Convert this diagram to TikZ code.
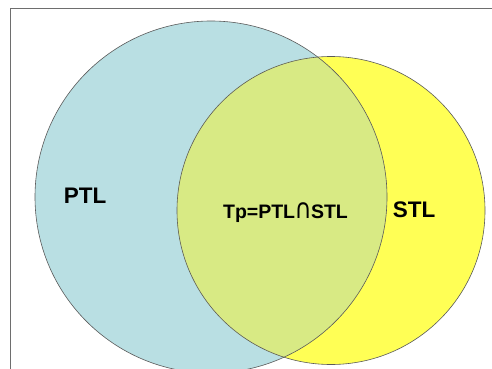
\documentclass[tikz,border=0pt]{standalone}
\usepackage{graphicx}
\usepackage{fontspec}
\setmainfont{Liberation Sans}
\newfontfamily\symfont{DejaVu Sans}
\definecolor{setblue}{RGB}{185,223,227}
\definecolor{setyellow}{RGB}{255,255,85}
\definecolor{setboth}{RGB}{216,234,132}
\definecolor{edgegray}{RGB}{90,90,90}
\definecolor{framegray}{RGB}{110,110,110}
% a tall cap sign, as high as the capitals beside it
\newcommand{\capsign}{{\symfont\mdseries\kern-0.6pt\scalebox{1.2}[1.4]{∩}\kern-0.6pt}}
\begin{document}
\begin{tikzpicture}[x=1pt,y=-1pt,
  setline/.style={draw=edgegray,line width=0.6pt},
  setlabel/.style={font=\bfseries\fontsize{22.5}{26}\selectfont,text=black,inner sep=0pt},
  innerlabel/.style={font=\bfseries\fontsize{19.5}{23}\selectfont,text=black,inner sep=0pt}]
\useasboundingbox (0,0) rectangle (492,369);
\fill[white] (0,0) rectangle (492,369);
% page frame
\draw[framegray,line width=0.8pt] (10.5,369) -- (10.5,8.5) -- (492,8.5);
% the two sets
\coordinate (cp) at (211,197);
\coordinate (cs) at (331,210.5);
\fill[setblue] (cp) circle (176);
\fill[setyellow] (cs) circle (154);
\begin{scope}
  \clip (cp) circle (176);
  \fill[setboth] (cs) circle (154);
\end{scope}
\draw[setline] (cp) circle (176);
\draw[setline] (cs) circle (154);
% labels
\node[setlabel] (ptl) at (85,196) {PTL};
\node[innerlabel] (tp) at (285.5,212.5) {Tp=PTL\capsign STL};
\node[setlabel] (stl) at (414,210) {STL};
\end{tikzpicture}
\end{document}
